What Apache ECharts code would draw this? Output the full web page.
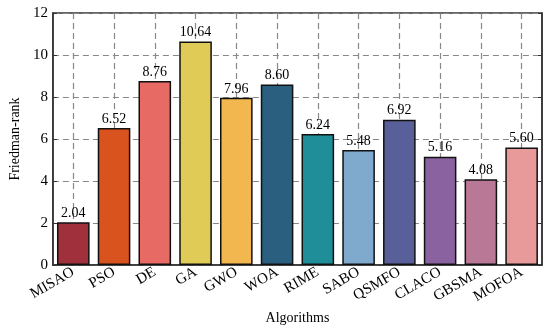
<!DOCTYPE html>
<html><head><meta charset="utf-8">
<script src="https://cdn.jsdelivr.net/npm/echarts@6/dist/echarts.min.js"></script>
<style>html,body{margin:0;padding:0;background:#fff}#c{width:550px;height:330px}</style>
</head><body><div id="c"></div>
<script>
const categories = ['MISAO','PSO','DE','GA','GWO','WOA','RIME','SABO','QSMFO','CLACO','GBSMA','MOFOA'];
const values = [2.04, 6.52, 8.76, 10.64, 7.96, 8.60, 6.24, 5.48, 6.92, 5.16, 4.08, 5.60];
const colors = ['#A0313C','#D9531E','#E86A64','#DFCB55','#F3B74F','#2A5F80','#1F8E99','#7FAACE','#585F99','#8A62A0','#B97896','#E89A9A'];
const yTicks = [0, 2, 4, 6, 8, 10, 12];

const font = 'Liberation Serif';
const chart = echarts.init(document.getElementById('c'));
const yMin = yTicks[0], yMax = yTicks[yTicks.length - 1];
chart.setOption({
  animation: false,
  textStyle: {fontFamily: font},
  grid: {left: 46, right: 8, top: 13, bottom: 62, show: true, borderColor: '#333', borderWidth: 1.5, backgroundColor: 'transparent'},
  xAxis: {
    type: 'category', data: categories,
    name: 'Algorithms', nameLocation: 'middle', nameGap: 46,
    nameTextStyle: {fontFamily: font, fontSize: 14, color: '#000'},
    axisLine: {show: true, lineStyle: {color: '#333', width: 1.5}},
    axisTick: {show: false},
    axisLabel: {rotate: 30, fontFamily: font, fontSize: 15, color: '#000', margin: 6, interval: 0},
    splitLine: {show: true, alignWithLabel: true, interval: 0, lineStyle: {type: [6, 4], color: '#888', width: 1.2}}
  },
  yAxis: [{
    type: 'value', min: yMin, max: yMax, interval: 2,
    name: 'Friedman-rank', nameLocation: 'middle', nameGap: 30,
    nameTextStyle: {fontFamily: font, fontSize: 14, color: '#000'},
    axisLine: {show: true, lineStyle: {color: '#333', width: 1.5}},
    axisTick: {show: true, inside: true, length: 4, lineStyle: {color: '#333'}},
    axisLabel: {fontFamily: font, fontSize: 15, color: '#000', margin: 5},
    splitLine: {show: true, lineStyle: {type: [6, 4], color: '#888', width: 1.2}}
  }, {
    type: 'value', min: yMin, max: yMax, interval: 2, position: 'right',
    axisLine: {show: true, lineStyle: {color: '#333', width: 1.5}},
    axisTick: {show: true, inside: true, length: 4, lineStyle: {color: '#333'}},
    axisLabel: {show: false},
    splitLine: {show: false}
  }],
  series: [{
    type: 'bar',
    yAxisIndex: 0,
    data: values.map((v, i) => ({value: v, itemStyle: {color: colors[i]}})),
    barWidth: '80%',
    itemStyle: {borderColor: '#111', borderWidth: 1.5},
    label: {show: true, position: 'top', distance: 2, fontFamily: font, fontSize: 14, color: '#000',
      formatter: p => p.value.toFixed(2)}
  }]
});
</script></body></html>
